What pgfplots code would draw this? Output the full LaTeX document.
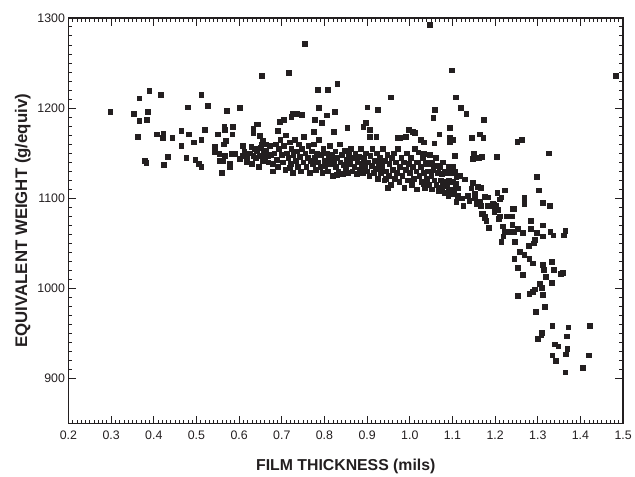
\documentclass[border=0pt]{standalone}
\usepackage{fontspec}
\setmainfont{Liberation Sans}
\usepackage{pgfplots}
\pgfplotsset{compat=1.18}
\definecolor{pt}{HTML}{231F20}
\begin{document}
\begin{tikzpicture}
\begin{axis}[
  name=ax,
  scale only axis, width=559bp, height=409bp,
  xmin=0.2, xmax=1.5, ymin=850, ymax=1300,
  xtick={0.2,0.3,0.4,0.5,0.6,0.7,0.8,0.9,1.0,1.1,1.2,1.3,1.4,1.5},
  ytick={900,1000,1100,1200,1300},
  minor x tick num=9, minor y tick num=9,
  tick align=inside,
  major tick length=8bp, minor tick length=4bp,
  every tick/.style={pt, line width=0.8pt},
  axis line style={pt, line width=1.6pt},
  /pgf/number format/assume math mode=true,
  xticklabel style={/pgf/number format/.cd, fixed, fixed zerofill, precision=1, /tikz/.cd, yshift=-4bp},
  yticklabel style={/pgf/number format/.cd, 1000 sep={}},
  ticklabel style={font=\fontsize{12.5}{14}\selectfont, text=pt},
  xtick pos=both, ytick pos=both,
  xticklabel pos=lower, yticklabel pos=left,
  xlabel={\bfseries FILM THICKNESS (mils)},
  ylabel={\bfseries EQUIVALENT WEIGHT (g/equiv)},
  xlabel style={font=\fontsize{16}{18}\selectfont, text=pt, yshift=-12bp},
  ylabel style={font=\fontsize{17}{19}\selectfont, text=pt, yshift=0bp},
  clip=false,
]
\addplot[only marks, mark=square*, mark size=2.4pt, mark options={pt, fill=pt}] table {
x y
0.298 1196
0.353 1194
0.366 1211
0.389 1219
0.416 1215
0.386 1196
0.366 1186
0.384 1187
0.362 1168
0.407 1171
0.422 1172
0.420 1167
0.443 1167
0.464 1175
0.481 1171
0.464 1158
0.493 1162
0.511 1165
0.520 1176
0.511 1215
0.526 1203
0.480 1201
0.571 1197
0.602 1200
0.565 1179
0.585 1179
0.550 1171
0.584 1171
0.567 1176
0.569 1164
0.564 1160
0.379 1142
0.382 1139
0.432 1146
0.424 1137
0.476 1145
0.497 1143
0.505 1138
0.511 1135
0.543 1157
0.543 1151
0.553 1149
0.567 1147
0.582 1149
0.561 1142
0.578 1138
0.578 1135
0.560 1128
0.590 1149
0.555 1142
0.609 1158
0.609 1147
0.602 1144
0.617 1146
0.633 1147
0.648 1147
0.636 1155
0.628 1157
0.633 1173
0.640 1182
0.648 1169
0.656 1164
0.663 1160
0.652 1160
0.660 1144
0.667 1147
0.679 1138
0.754 1271
0.653 1236
0.717 1239
0.830 1227
0.784 1220
0.807 1220
0.956 1212
0.787 1200
0.900 1201
0.924 1198
0.824 1196
0.806 1192
0.777 1187
0.793 1184
0.726 1194
0.736 1194
0.746 1193
0.722 1190
0.695 1185
0.705 1187
0.643 1182
0.633 1177
0.691 1175
0.896 1184
0.891 1179
0.906 1176
0.853 1178
0.821 1174
0.774 1174
0.997 1176
1.006 1174
1.012 1173
0.906 1168
0.921 1168
0.991 1168
0.971 1167
0.977 1167
1.058 1198
1.055 1189
1.047 1292
1.098 1242
1.483 1236
1.107 1212
1.119 1200
1.132 1194
1.173 1187
1.094 1178
1.069 1171
1.164 1171
1.172 1167
1.145 1167
1.093 1167
1.093 1163
1.102 1165
1.057 1161
1.026 1165
1.032 1162
1.252 1163
1.263 1165
1.326 1150
1.106 1147
1.149 1149
1.147 1144
1.162 1145
1.169 1146
1.204 1146
1.020 1151
1.032 1149
1.047 1148
1.040 1140
1.051 1138
1.063 1136
1.016 1140
1.101 1135
1.081 1130
1.102 1134
1.297 1124
1.303 1109
1.268 1101
1.268 1094
1.311 1095
1.328 1092
1.242 1088
1.223 1109
1.205 1106
1.214 1101
1.109 1124
1.117 1125
1.129 1121
1.102 1118
1.109 1116
1.113 1111
1.090 1109
1.090 1103
1.113 1103
1.121 1100
1.109 1096
1.125 1092
1.136 1103
1.144 1111
1.148 1117
1.160 1113
1.167 1112
1.152 1105
1.152 1100
1.163 1096
1.156 1094
1.175 1102
1.183 1101
1.187 1092
1.194 1094
1.202 1092
1.198 1085
1.171 1083
1.175 1080
1.210 1080
1.226 1080
1.233 1080
1.074 1127
1.078 1114
1.139 1097
1.167 1092
1.183 1092
1.198 1093
1.210 1099
1.268 1099
1.169 1083
1.175 1078
1.179 1075
1.185 1067
1.207 1087
1.245 1088
1.209 1077
1.240 1080
1.218 1069
1.240 1071
1.222 1063
1.219 1058
1.214 1052
1.230 1063
1.243 1063
1.253 1066
1.246 1052
1.265 1062
1.283 1066
1.283 1075
1.298 1062
1.311 1070
1.311 1058
1.329 1063
1.336 1059
1.364 1064
1.361 1059
1.278 1047
1.291 1050
1.293 1054
1.257 1041
1.268 1037
1.280 1033
1.288 1028
1.245 1033
1.253 1023
1.265 1015
1.312 1026
1.313 1021
1.332 1030
1.337 1021
1.354 1016
1.358 1017
1.318 1013
1.304 1005
1.309 1001
1.293 999
1.288 996
1.280 994
1.311 993
1.333 1006
1.253 992
1.316 980
1.295 974
1.334 959
1.371 957
1.421 959
1.309 951
1.308 948
1.300 944
1.367 947
1.340 938
1.348 936
1.369 933
1.366 927
1.334 926
1.342 920
1.419 926
1.406 912
1.364 907
0.949 1112
1.071 1112
1.032 1116
0.943 1122
0.829 1126
0.719 1134
0.612 1152
0.618 1140
0.625 1150
0.630 1138
0.638 1145
0.642 1152
0.645 1135
0.650 1156
0.655 1141
0.658 1150
0.662 1153
0.668 1140
0.672 1158
0.675 1148
0.678 1130
0.682 1150
0.685 1160
0.688 1143
0.690 1135
0.693 1155
0.696 1165
0.699 1148
0.702 1140
0.705 1158
0.708 1132
0.710 1170
0.712 1150
0.715 1145
0.718 1162
0.720 1138
0.722 1155
0.725 1128
0.727 1148
0.730 1165
0.732 1142
0.735 1152
0.737 1135
0.740 1160
0.742 1146
0.745 1130
0.747 1155
0.750 1140
0.752 1168
0.755 1150
0.757 1135
0.760 1145
0.762 1158
0.765 1128
0.767 1142
0.770 1152
0.772 1138
0.775 1160
0.777 1145
0.780 1132
0.782 1150
0.785 1140
0.787 1165
0.790 1135
0.792 1148
0.795 1128
0.797 1155
0.800 1142
0.802 1136
0.805 1150
0.807 1130
0.810 1145
0.812 1158
0.815 1138
0.817 1148
0.820 1125
0.822 1142
0.825 1152
0.827 1135
0.830 1145
0.832 1130
0.835 1160
0.837 1140
0.840 1148
0.842 1127
0.845 1137
0.847 1153
0.850 1132
0.852 1143
0.855 1128
0.857 1148
0.860 1138
0.862 1155
0.865 1130
0.867 1145
0.870 1135
0.872 1150
0.875 1127
0.877 1140
0.880 1146
0.882 1132
0.885 1155
0.887 1138
0.890 1128
0.892 1145
0.895 1135
0.897 1150
0.900 1130
0.902 1140
0.905 1125
0.907 1147
0.910 1136
0.912 1155
0.915 1128
0.917 1142
0.920 1133
0.922 1150
0.925 1122
0.927 1138
0.930 1145
0.932 1128
0.935 1135
0.937 1155
0.940 1120
0.942 1142
0.945 1130
0.947 1148
0.950 1125
0.952 1138
0.955 1115
0.957 1145
0.960 1132
0.962 1150
0.965 1122
0.967 1140
0.970 1128
0.972 1155
0.975 1118
0.977 1135
0.980 1145
0.982 1125
0.985 1140
0.987 1112
0.990 1132
0.992 1150
0.995 1120
0.997 1138
1.000 1128
1.002 1145
1.005 1115
1.007 1135
1.010 1122
1.012 1155
1.015 1130
1.017 1110
1.020 1140
1.022 1125
1.025 1135
1.027 1118
1.030 1145
1.032 1128
1.035 1112
1.037 1138
1.040 1122
1.042 1130
1.045 1115
1.047 1140
1.050 1125
1.052 1110
1.055 1132
1.057 1120
1.060 1145
1.062 1115
1.065 1128
1.067 1108
1.070 1135
1.072 1120
1.075 1112
1.077 1140
1.080 1118
1.082 1106
1.085 1128
1.087 1115
1.090 1135
1.092 1120
1.095 1110
1.097 1128
1.100 1118
1.103 1105
1.105 1130
1.108 1112
};
\end{axis}
\path ([shift={(-69bp,-47bp)}]ax.south west) rectangle ([shift={(7bp,18bp)}]ax.north east);
\end{tikzpicture}
\end{document}
